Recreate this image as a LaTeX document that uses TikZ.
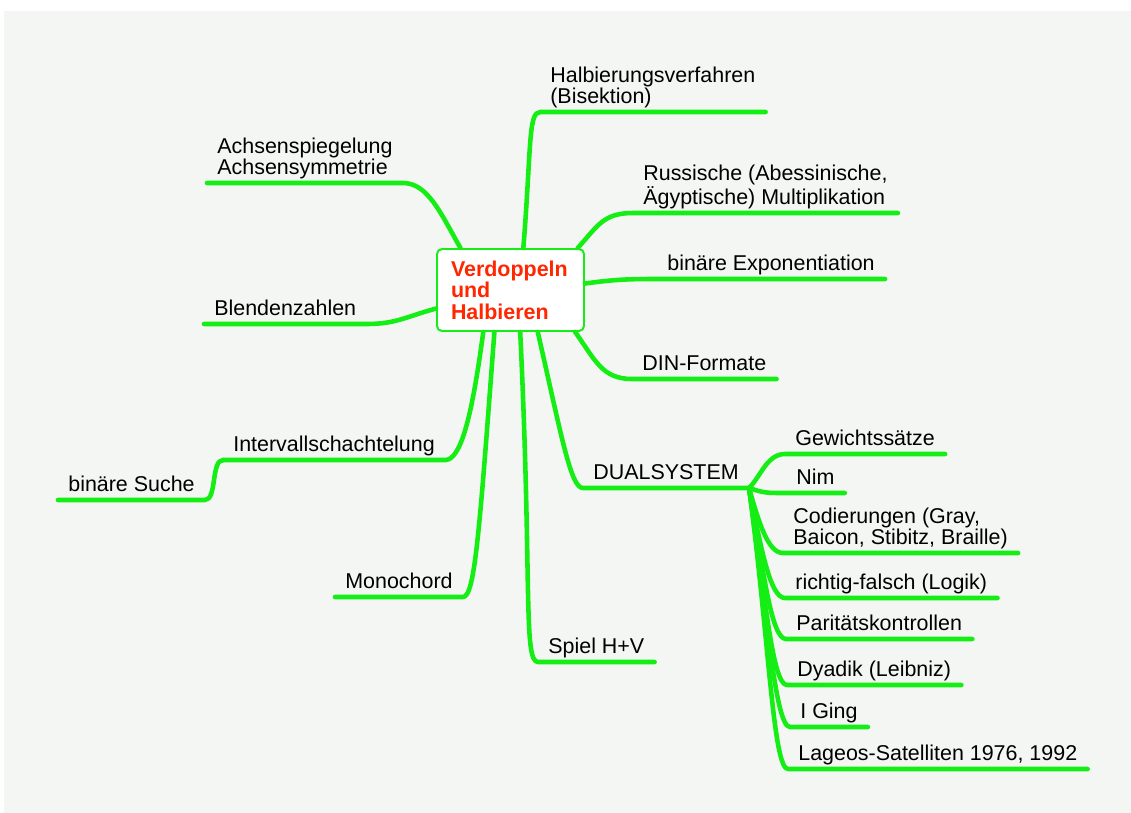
\documentclass[tikz,border=0pt]{standalone}
\usepackage{fontspec}
\setmainfont{Liberation Sans}
\definecolor{leaf}{RGB}{20,238,20}
\definecolor{title}{RGB}{255,38,0}
\definecolor{paper}{RGB}{244,246,243}
\tikzset{
  main/.style={draw=leaf, line width=1.1pt, fill=white, rounded corners=0.1cm, text width=2.38cm, minimum height=1.64cm, inner xsep=0.28cm, align=left, text=title, font=\bfseries\fontsize{12.2}{12.2}\selectfont},
  topic/.style={anchor=south west, align=left, inner xsep=0.2cm, inner ysep=1pt, execute at end node=\strut, font=\fontsize{12.2}{12}\selectfont},
  branch/.style={draw=leaf, line width=2.6pt, line cap=round, line join=round}
}
\begin{document}
\begin{tikzpicture}[x=0.02cm, y=-0.02cm]
\useasboundingbox (0,0) rectangle (1131,812);
\fill[paper] (4,11) rectangle (1145,825);
\node[main] (ctr) at (510.5,290) {Verdoppeln\\und\\Halbieren};

\node[topic] (halb) at (540,112) {Halbierungsverfahren\\(Bisektion)};
\node[topic] (russ) at (633,213) {Russische (Abessinische,\\Ägyptische) Multiplikation};
\node[topic] (bexp) at (657,279) {binäre Exponentiation};
\node[topic] (din) at (632,379) {DIN-Formate};
\node[topic] (dual) at (583,488) {DUALSYSTEM};
\node[topic] (spiel) at (538,662) {Spiel H+V};
\node[topic] (mono) at (335,597) {Monochord};
\node[topic] (intv) at (223,460) {Intervallschachtelung};
\node[topic] (bsuche) at (58,500) {binäre Suche};
\node[topic] (blende) at (204,324) {Blendenzahlen};
\node[topic] (achse) at (207,183) {Achsenspiegelung\\Achsensymmetrie};

\node[topic] (gew) at (785,454) {Gewichtssätze};
\node[topic] (nim) at (786,493) {Nim};
\node[topic] (code) at (783,553) {Codierungen (Gray,\\Baicon, Stibitz, Braille)};
\node[topic] (logik) at (785,598) {richtig-falsch (Logik)};
\node[topic] (paritaet) at (786,639) {Paritätskontrollen};
\node[topic] (dyadik) at (787,685) {Dyadik (Leibniz)};
\node[topic] (iging) at (790,727) {I Ging};
\node[topic] (lageos) at (788,769) {Lageos-Satelliten 1976, 1992};

\draw[branch] (ctr.73) .. controls +(8,-99) and +(-12,0) .. (halb.south west) -- (halb.south east);
\draw[branch] (ctr.32) .. controls +(20,-22) and +(-30,0) .. (russ.south west) -- (russ.south east);
\draw[branch] (ctr.5) .. controls +(30,-4) and +(-30,0) .. (bexp.south west) -- (bexp.south east);
\draw[branch] (ctr.-33) .. controls +(20,28) and +(-30,0) .. (din.south west) -- (din.south east);
\draw[branch] (ctr.-57) .. controls +(25,110) and +(-12,0) .. (dual.south west) -- (dual.south east);
\draw[branch] (ctr.-77) .. controls +(12,250) and +(-15,0) .. (spiel.south west) -- (spiel.south east);
\draw[branch] (ctr.249) .. controls +(-15,200) and +(12,0) .. (mono.south east) -- (mono.south west);
\draw[branch] (ctr.237) .. controls +(-12,90) and +(15,0) .. (intv.south east) -- (intv.south west);
\draw[branch] (intv.south west) .. controls +(-12,0) and +(12,0) .. (bsuche.south east) -- (bsuche.south west);
\draw[branch] (ctr.194) .. controls +(-30,8) and +(30,0) .. (blende.south east) -- (blende.south west);
\draw[branch] (ctr.140) .. controls +(-20,-35) and +(25,0) .. (achse.south east) -- (achse.south west);

\draw[branch] (dual.south east) .. controls +(12,-12) and +(-18,0) .. (gew.south west) -- (gew.south east);
\draw[branch] (dual.south east) .. controls +(15,5) and +(-20,0) .. (nim.south west) -- (nim.south east);
\draw[branch] (dual.south east) .. controls +(10,35) and +(-15,0) .. (code.south west) -- (code.south east);
\draw[branch] (dual.south east) .. controls +(12,60) and +(-15,0) .. (logik.south west) -- (logik.south east);
\draw[branch] (dual.south east) .. controls +(14,80) and +(-15,0) .. (paritaet.south west) -- (paritaet.south east);
\draw[branch] (dual.south east) .. controls +(16,105) and +(-15,0) .. (dyadik.south west) -- (dyadik.south east);
\draw[branch] (dual.south east) .. controls +(18,125) and +(-15,0) .. (iging.south west) -- (iging.south east);
\draw[branch] (dual.south east) .. controls +(20,150) and +(-15,0) .. (lageos.south west) -- (lageos.south east);
\end{tikzpicture}
\end{document}
